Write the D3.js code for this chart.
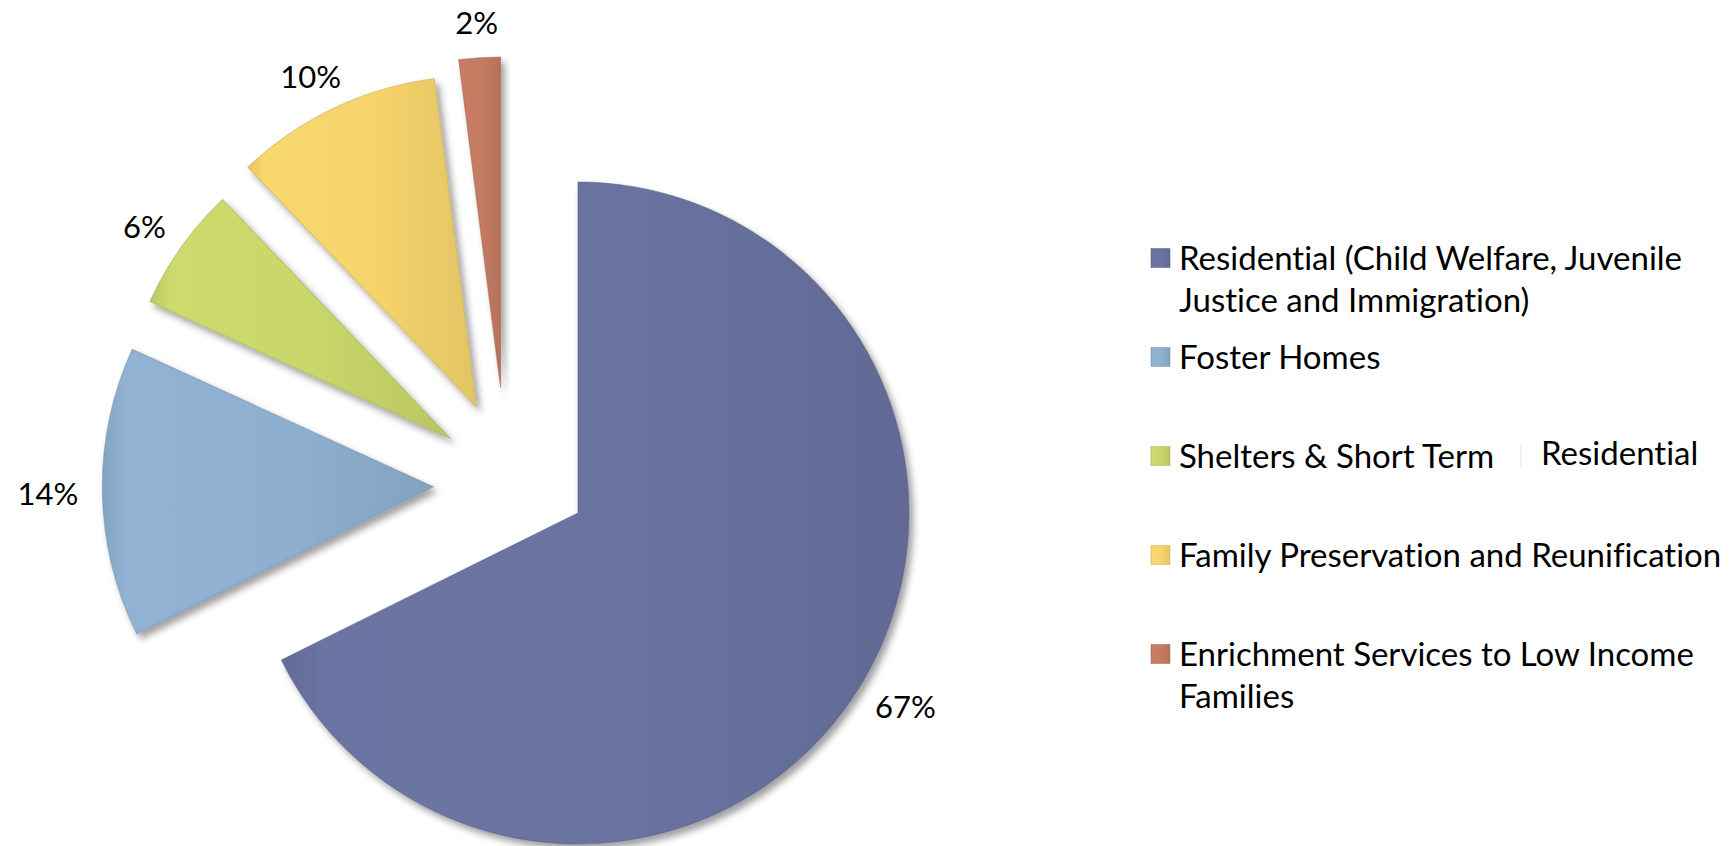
<!DOCTYPE html>
<html>
<head>
<meta charset="utf-8">
<script src="https://cdn.jsdelivr.net/npm/d3@7"></script>
<style>
  html, body { margin: 0; padding: 0; background: #ffffff; }
  svg { display: block; }
  text { font-family: Lato, "Open Sans", sans-serif; fill: #000; font-variant-ligatures: none; font-feature-settings: "liga" 0; }
</style>
</head>
<body>
<svg id="chart" width="1730" height="846"></svg>
<script>
// ---- data ----
const categories = [
  "Residential (Child Welfare, Juvenile Justice and Immigration)",
  "Foster Homes",
  "Shelters & Short Term Residential",
  "Family Preservation and Reunification",
  "Enrichment Services to Low Income Families"
];
const values = [67, 14, 6, 10, 2];
const valueLabels = ["67%", "14%", "6%", "10%", "2%"];
const colors = ["#6973a0", "#8eafcf", "#c9d66a", "#f5d46c", "#c47b62"];
const legendLines = [
  [["Residential (Child Welfare, Juvenile"], ["Justice and Immigration)"]],
  [["Foster Homes"]],
  [["Shelters & Short Term", "Residential"]],
  [["Family Preservation and Reunification"]],
  [["Enrichment Services to Low Income"], ["Families"]]
];

// ---- layout ----
const cx = 578, cy = 513, R = 331;
const explodeDist = 147;
const labelGap = 24, labelCapH = 23;
const svg = d3.select("#chart");
const defs = svg.append("defs");

const shadow = defs.append("filter").attr("id", "shadow")
  .attr("x", "-20%").attr("y", "-20%").attr("width", "140%").attr("height", "140%");
shadow.append("feDropShadow").attr("dx", 4).attr("dy", 5)
  .attr("stdDeviation", 3.5).attr("flood-color", "#000").attr("flood-opacity", 0.38);

colors.forEach((c, i) => {
  const g = defs.append("linearGradient").attr("id", "grad" + i)
    .attr("x1", 0).attr("y1", 0).attr("x2", 1).attr("y2", 0);
  g.append("stop").attr("offset", 0).attr("stop-color", d3.color(c).darker(0.2));
  g.append("stop").attr("offset", 0.07).attr("stop-color", d3.color(c).brighter(0.05));
  g.append("stop").attr("offset", 0.55).attr("stop-color", c);
  g.append("stop").attr("offset", 1).attr("stop-color", d3.color(c).darker(0.22));
});

const pie = d3.pie().sort(null).value(d => d).startAngle(0).endAngle(2 * Math.PI);
const arcs = pie(values);
const arc = d3.arc().innerRadius(0).outerRadius(R);
const labelArc = d3.arc().innerRadius(R + labelGap).outerRadius(R + labelGap);

// explode direction: compressed toward a common upper-left direction
function explodeOffset(d) {
  if (d.index === 0) return [0, 0];
  const mid = (d.startAngle + d.endAngle) / 2;
  const ref = 305 * Math.PI / 180;
  const a = 300 * Math.PI / 180 + 0.55 * (mid - ref);
  return [Math.sin(a) * explodeDist, -Math.cos(a) * explodeDist];
}

const pieG = svg.append("g").attr("transform", `translate(${cx},${cy})`);
const slices = pieG.selectAll("g.slice").data(arcs).join("g")
  .attr("class", "slice")
  .attr("transform", d => { const o = explodeOffset(d); return `translate(${o[0]},${o[1]})`; });

slices.append("path")
  .attr("d", arc)
  .attr("fill", (d, i) => `url(#grad${i})`)
  .attr("stroke", (d, i) => d3.color(colors[i]).darker(0.6))
  .attr("stroke-opacity", 0.5)
  .attr("stroke-width", 1.2)
  .attr("filter", "url(#shadow)");

// outside-end labels: the label box's near edge sits just beyond the arc
slices.append("text")
  .attr("text-anchor", "middle")
  .attr("dominant-baseline", "central")
  .style("font-size", "31px")
  .text((d, i) => valueLabels[i])
  .attr("transform", function (d) {
    const mid = (d.startAngle + d.endAngle) / 2;
    const [px, py] = labelArc.centroid(d);
    const w = this.getComputedTextLength();
    const x = px + Math.sin(mid) * w / 2;
    const y = py - Math.cos(mid) * labelCapH / 2;
    return `translate(${x},${y})`;
  });

// ---- legend ----
const legX = 1151, legY = 257, rowStep = 99, lineStep = 42, sw = 19;
const leg = svg.append("g");
const rows = leg.selectAll("g.row").data(categories).join("g")
  .attr("class", "row")
  .attr("transform", (d, i) => `translate(${legX},${legY + i * rowStep})`);

rows.append("rect")
  .attr("x", 0).attr("y", -sw / 2 + 1).attr("width", sw).attr("height", sw)
  .attr("fill", (d, i) => `url(#grad${i})`)
  .attr("stroke", (d, i) => d3.color(colors[i]).darker(0.5))
  .attr("stroke-opacity", 0.5);

rows.each(function (d, i) {
  const t = d3.select(this).append("text")
    .attr("x", 28).attr("y", 0)
    .attr("dominant-baseline", "central")
    .style("font-size", "33px");
  legendLines[i].forEach((line, j) => {
    line.forEach((part, k) => {
      const ts = t.append("tspan").text(part);
      if (k === 0) ts.attr("x", 28).attr("y", j * lineStep);
      else ts.attr("x", 390).attr("y", j * lineStep - 3);
    });
  });
  if (legendLines[i][0].length > 1) {
    d3.select(this).append("line")
      .attr("x1", 370).attr("x2", 370).attr("y1", -11).attr("y2", 12)
      .attr("stroke", "#e4e4e4").attr("stroke-width", 1);
  }
});
</script>
</body>
</html>
